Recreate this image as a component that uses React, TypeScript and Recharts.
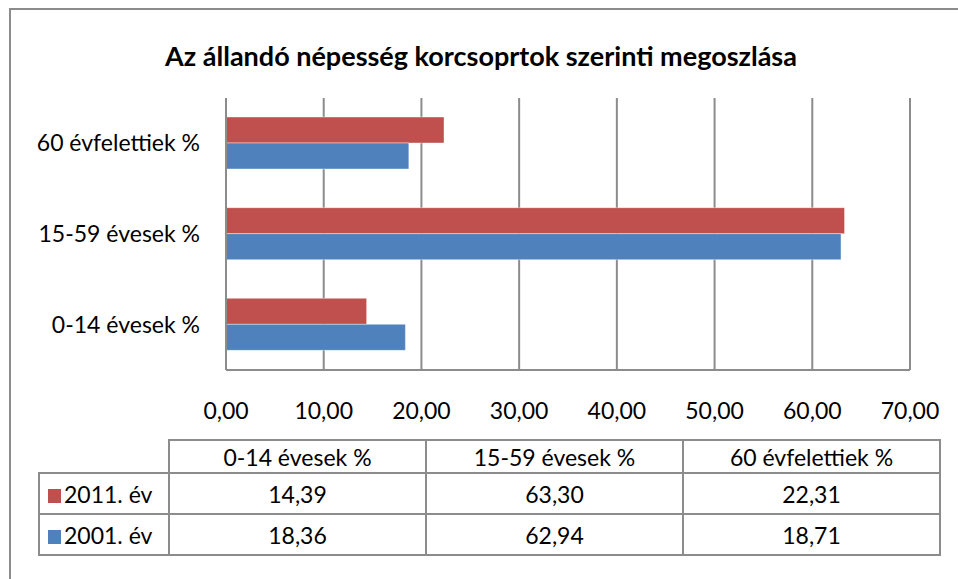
import React from 'react';
import { BarChart, Bar, XAxis, YAxis, CartesianGrid } from 'recharts';

const categories = ['0-14 évesek %', '15-59 évesek %', '60 évfelettiek %'];
const values2011 = [14.39, 63.3, 22.31];
const values2001 = [18.36, 62.94, 18.71];
const xTicks = [0, 10, 20, 30, 40, 50, 60, 70];

const series = [
  { key: 'y2011', name: '2011. év', color: '#C0504D', values: values2011 },
  { key: 'y2001', name: '2001. év', color: '#4F81BD', values: values2001 },
];

const data = categories.map((c, i) => ({ cat: c, y2011: values2011[i], y2001: values2001[i] }));

const FONT = 'Lato, "Open Sans", sans-serif';
const fmt = (v: number) => v.toFixed(2).replace('.', ',');

export default function App() {
  const colW = [130, 257, 257, 257];
  const cell: React.CSSProperties = {
    border: '2px solid #8c8c8c',
    textAlign: 'center',
    padding: 0,
    fontSize: 23,
    color: '#000',
  };
  return (
    <div style={{ position: 'fixed', left: 0, top: 0, width: 958, height: 579, background: '#fff', fontFamily: FONT, overflow: 'hidden' }}>
      {/* outer chart frame, only left and top edge visible */}
      <div style={{ position: 'absolute', left: 9, top: 8, width: 1000, height: 1000, border: '2px solid #8c8c8c' }} />
      <div style={{ position: 'absolute', left: 0, top: 39, width: 962, textAlign: 'center', fontSize: 27, fontWeight: 700, color: '#000' }}>
        Az állandó népesség korcsoprtok szerinti megoszlása
      </div>
      <div style={{ position: 'absolute', left: 0, top: 0 }}>
        <BarChart
          width={958}
          height={579}
          data={data}
          layout="vertical"
          margin={{ top: 98, right: 48, left: 0, bottom: 149 }}
          barGap={0}
          barSize={26}
        >
          <CartesianGrid horizontal={false} vertical stroke="#8c8c8c" strokeWidth={2} />
          <XAxis
            type="number"
            domain={[0, 70]}
            ticks={xTicks}
            height={60}
            tickFormatter={fmt}
            tickLine={false}
            axisLine={{ stroke: '#8c8c8c', strokeWidth: 2 }}
            tick={{ fontSize: 23, fill: '#000', fontFamily: FONT }}
            dy={25}
            interval={0}
          />
          <YAxis
            type="category"
            dataKey="cat"
            reversed
            width={226}
            tickLine={false}
            axisLine={{ stroke: '#8c8c8c', strokeWidth: 2 }}
            tick={{ fontSize: 23, fill: '#000', fontFamily: FONT }}
            tickMargin={20}
          />
          {series.map((s) => (
            <Bar key={s.key} dataKey={s.key} name={s.name} fill={s.color} stroke="#ffffff" strokeOpacity={0.4} isAnimationActive={false} />
          ))}
        </BarChart>
      </div>
      <table
        style={{
          position: 'absolute',
          left: 38,
          top: 439,
          borderCollapse: 'collapse',
          tableLayout: 'fixed',
          fontFamily: FONT,
        }}
      >
        <colgroup>
          {colW.map((w, i) => (
            <col key={i} style={{ width: w }} />
          ))}
        </colgroup>
        <tbody>
          <tr style={{ height: 33 }}>
            <td style={{ padding: 0, border: 'none', borderRight: '2px solid #8c8c8c', borderBottom: '2px solid #8c8c8c' }} />
            {categories.map((c) => (
              <td key={c} style={cell}>{c}</td>
            ))}
          </tr>
          {series.map((s) => (
            <tr key={s.key} style={{ height: 41 }}>
              <td style={{ ...cell, textAlign: 'left', paddingLeft: 8, whiteSpace: 'nowrap', overflow: 'hidden' }}>
                <span style={{ display: 'inline-block', width: 13, height: 14, background: s.color, marginRight: 3 }} />
                {s.name}
              </td>
              {s.values.map((v, i) => (
                <td key={i} style={cell}>{fmt(v)}</td>
              ))}
            </tr>
          ))}
        </tbody>
      </table>
    </div>
  );
}
